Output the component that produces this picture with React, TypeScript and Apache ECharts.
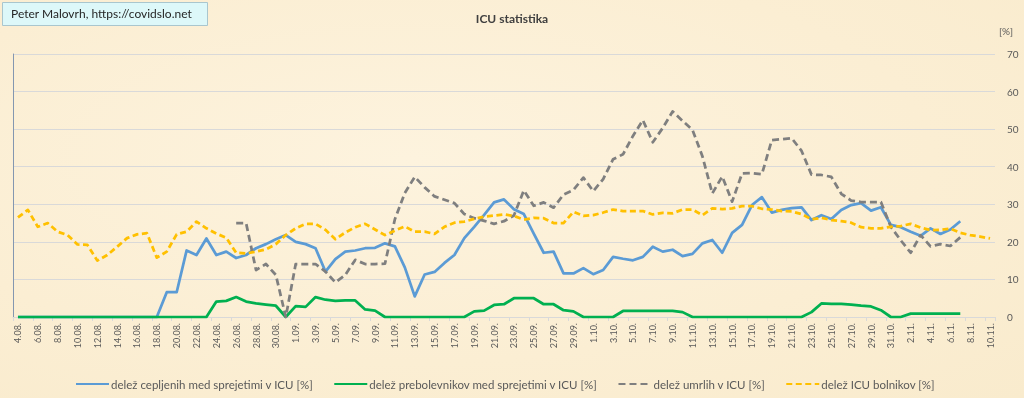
import React, { useEffect, useRef } from "react";
import * as echarts from "echarts";

const categories: string[] = [
  "4.08.", "5.08.", "6.08.", "7.08.", "8.08.", "9.08.", "10.08.", "11.08.", "12.08.", "13.08.",
  "14.08.", "15.08.", "16.08.", "17.08.", "18.08.", "19.08.", "20.08.", "21.08.", "22.08.", "23.08.",
  "24.08.", "25.08.", "26.08.", "27.08.", "28.08.", "29.08.", "30.08.", "31.08.",
  "1.09.", "2.09.", "3.09.", "4.09.", "5.09.", "6.09.", "7.09.", "8.09.", "9.09.", "10.09.",
  "11.09.", "12.09.", "13.09.", "14.09.", "15.09.", "16.09.", "17.09.", "18.09.", "19.09.", "20.09.",
  "21.09.", "22.09.", "23.09.", "24.09.", "25.09.", "26.09.", "27.09.", "28.09.", "29.09.", "30.09.",
  "1.10.", "2.10.", "3.10.", "4.10.", "5.10.", "6.10.", "7.10.", "8.10.", "9.10.", "10.10.",
  "11.10.", "12.10.", "13.10.", "14.10.", "15.10.", "16.10.", "17.10.", "18.10.", "19.10.", "20.10.",
  "21.10.", "22.10.", "23.10.", "24.10.", "25.10.", "26.10.", "27.10.", "28.10.", "29.10.", "30.10.",
  "31.10.", "1.11.", "2.11.", "3.11.", "4.11.", "5.11.", "6.11.", "7.11.", "8.11.", "9.11.", "10.11.",
];

const yTicks = [0, 10, 20, 30, 40, 50, 60, 70];

// delež cepljenih med sprejetimi v ICU [%]
const cepljeni: (number | null)[] = [
  0, 0, 0, 0, 0, 0, 0, 0, 0, 0,
  0, 0, 0, 0, 0, 6.6, 6.6, 17.7, 16.5, 20.9,
  16.5, 17.4, 15.7, 16.5, 18.3, 19.4, 20.7, 21.8, 20, 19.4,
  18.3, 12.1, 15.4, 17.4, 17.7, 18.3, 18.4, 19.6, 18.8, 13.2,
  5.5, 11.3, 12, 14.4, 16.5, 21, 24, 27.2, 30.5, 31.3,
  28.7, 27.4, 22.2, 17.1, 17.4, 11.6, 11.6, 13, 11.4, 12.5,
  16, 15.5, 15.1, 16, 18.7, 17.4, 17.9, 16.2, 16.8, 19.6,
  20.5, 17.1, 22.4, 24.5, 29.8, 31.9, 27.8, 28.5, 29, 29.2,
  25.8, 27.1, 26.1, 28.5, 29.8, 30.3, 28.3, 29.2, 24.5, 23.9,
  22.7, 21.6, 23.6, 22.1, 23.3, 25.5, null, null, null,
];

// delež prebolevnikov med sprejetimi v ICU [%]
const preboleli: (number | null)[] = [
  0, 0, 0, 0, 0, 0, 0, 0, 0, 0,
  0, 0, 0, 0, 0, 0, 0, 0, 0, 0,
  4.1, 4.3, 5.3, 4.1, 3.6, 3.3, 3, 0, 2.9, 2.7,
  5.3, 4.6, 4.3, 4.4, 4.4, 2, 1.7, 0, 0, 0,
  0, 0, 0, 0, 0, 0, 1.5, 1.7, 3.2, 3.4,
  5, 5, 5, 3.4, 3.4, 1.8, 1.5, 0, 0, 0,
  0, 1.6, 1.6, 1.6, 1.6, 1.6, 1.6, 1.3, 0, 0,
  0, 0, 0, 0, 0, 0, 0, 0, 0, 0,
  1.3, 3.6, 3.5, 3.5, 3.3, 3, 2.8, 1.8, 0, 0,
  0.9, 0.9, 0.9, 0.9, 0.9, 0.9, null, null, null,
];

// delež umrlih v ICU [%]
const umrli: (number | null)[] = [
  null, null, null, null, null, null, null, null, null, null,
  null, null, null, null, null, null, null, null, null, null,
  null, null, 25, 25, 12.5, 14.1, 11.2, 0, 14.1, 14.1,
  14.1, 12.1, 9.2, 11.2, 15.2, 14.1, 14.1, 14.2, 26, 33,
  37.3, 34.5, 32.1, 31.2, 30.3, 27.4, 26.3, 25.6, 24.8, 25.5,
  27, 33.7, 29.6, 30.5, 29.1, 32.6, 33.8, 37.1, 33.5, 36.7,
  42, 43.3, 48.2, 52.4, 46.5, 50.3, 54.7, 52.2, 49.8, 42.8,
  32.9, 37.4, 30.7, 38.2, 38.3, 38, 47.1, 47.3, 47.6, 44.2,
  37.9, 37.8, 37.3, 32.8, 31, 30.6, 30.6, 30.6, 24, 20.4,
  17.1, 21.8, 18.8, 19.4, 18.9, 21.2, null, null, null,
];

// delež ICU bolnikov [%]
const icuBolniki: (number | null)[] = [
  26.5, 28.5, 24, 25, 22.7, 21.8, 19.3, 19.2, 15, 16.5,
  18.7, 21, 22, 22.3, 15.8, 17.4, 22, 22.7, 25.4, 23.6,
  22.2, 21.1, 17.1, 16.9, 17.4, 18, 19.4, 21.8, 23.6, 24.8,
  24.8, 23.2, 20.7, 22.5, 23.9, 24.8, 23.3, 21.8, 23, 24.1,
  22.7, 22.7, 22.1, 24, 25.1, 25.4, 26.1, 26.7, 27, 27.3,
  26.9, 25.9, 26.4, 26.3, 25, 25, 28, 26.9, 27.1, 27.8,
  28.6, 28.2, 28.2, 28.2, 27.3, 27.7, 27.6, 28.6, 28.6, 27.1,
  28.9, 28.7, 28.9, 29.5, 29.5, 28.8, 28.6, 28.2, 28.1, 27.4,
  26, 26.4, 25.8, 25.5, 25.1, 23.9, 23.6, 23.6, 24, 24.2,
  24.8, 23.8, 23.1, 23.2, 23.5, 22.4, 21.8, 21.4, 20.9,
];

const seriesNames = [
  "delež cepljenih med sprejetimi v ICU [%]",
  "delež prebolevnikov med sprejetimi v ICU [%]",
  "delež umrlih v ICU [%]",
  "delež ICU bolnikov [%]",
];

const FONT = "Lato, 'Noto Sans', sans-serif";

export default function App() {
  const ref = useRef<HTMLDivElement>(null);

  useEffect(() => {
    if (!ref.current) return;
    const chart = echarts.init(ref.current, undefined, { renderer: "svg" });
    const lineSeries = (
      name: string,
      data: (number | null)[],
      color: string,
      dashed: number[] | null
    ) => ({
      name,
      type: "line",
      data,
      symbol: "none",
      showSymbol: false,
      connectNulls: false,
      lineStyle: {
        color,
        width: 2.75,
        type: dashed ? dashed : "solid",
        cap: "butt",
        join: "round",
      },
      itemStyle: { color },
      emphasis: { disabled: true },
    });

    chart.setOption({
      animation: false,
      backgroundColor: "transparent",
      textStyle: { fontFamily: FONT },
      title: {
        text: "ICU statistika",
        left: "center",
        top: 7,
        textStyle: { fontFamily: FONT, fontSize: 12, fontWeight: "bold", color: "#404040" },
      },
      grid: { left: 13, right: 29, top: 54, bottom: 81, containLabel: false },
      legend: {
        left: 70,
        top: 373,
        itemGap: 20,
        itemWidth: 33,
        itemHeight: 12,
        itemStyle: { opacity: 0 },
        textStyle: { fontFamily: FONT, fontSize: 11.5, color: "#595959", padding: [0, 0, 0, -3] },
        data: seriesNames,
      },
      xAxis: {
        type: "category",
        data: categories,
        boundaryGap: true,
        axisLine: { show: true, lineStyle: { color: "#D9D9D9", width: 1 } },
        axisTick: { show: true, interval: 1, length: 4, lineStyle: { color: "#D9D9D9" } },
        axisLabel: {
          interval: 1,
          rotate: 90,
          fontSize: 9,
          color: "#595959",
          fontFamily: FONT,
          margin: 6,
        },
        splitLine: { show: false },
      },
      yAxis: [
        {
          type: "value",
          position: "right",
          min: 0,
          max: 70,
          interval: 10,
          axisLine: { show: false },
          axisTick: { show: false },
          axisLabel: {
            fontSize: 10,
            color: "#595959",
            fontFamily: FONT,
            margin: 12,
            customValues: yTicks,
          },
          splitLine: { show: true, lineStyle: { color: "#D9D9D9", width: 1 } },
        },
        {
          type: "value",
          position: "left",
          min: 0,
          max: 70,
          interval: 10,
          axisLine: { show: true, lineStyle: { color: "#8497B0", width: 1 } },
          axisTick: { show: false },
          axisLabel: { show: false },
          splitLine: { show: false },
        },
      ],
      graphic: [
        {
          type: "rect",
          left: 2,
          top: 2,
          shape: { width: 205, height: 23 },
          style: { fill: "#DDF8F9", stroke: "#A9C6CE", lineWidth: 1 },
          z: 10,
        },
        {
          type: "text",
          left: 11,
          top: 7,
          style: {
            text: "Peter Malovrh, https://covidslo.net",
            fontFamily: FONT,
            fontSize: 12,
            fill: "#262626",
          },
          z: 11,
        },
        {
          type: "text",
          left: 999,
          top: 26,
          style: { text: "[%]", fontFamily: FONT, fontSize: 10, fill: "#595959" },
        },
      ],
      series: [
        lineSeries(seriesNames[0], cepljeni, "#5B9BD5", null),
        lineSeries(seriesNames[1], preboleli, "#00B050", null),
        lineSeries(seriesNames[2], umrli, "#7F7F7F", [7, 4]),
        lineSeries(seriesNames[3], icuBolniki, "#FFC000", [6, 3.5]),
      ],
    });
    return () => chart.dispose();
  }, []);

  return (
    <div
      style={{
        position: "fixed",
        left: 0,
        top: 0,
        width: 1024,
        height: 398,
        background: "radial-gradient(ellipse at 40% 40%, #FDF3DE 0%, #FBEED3 60%, #F9EBCD 100%)",
      }}
    >
      <div ref={ref} style={{ width: 1024, height: 398 }} />
    </div>
  );
}
